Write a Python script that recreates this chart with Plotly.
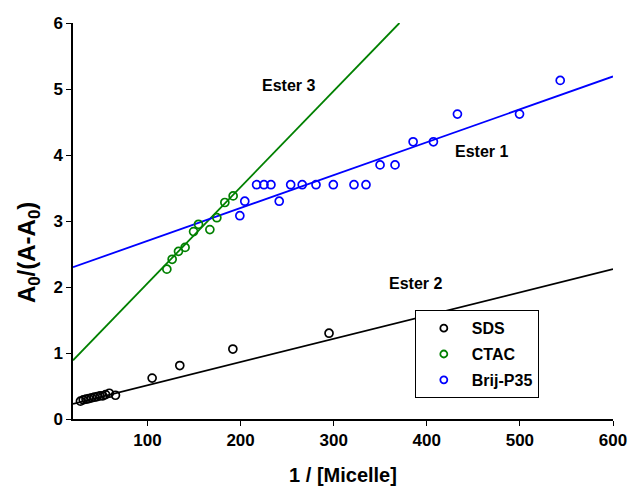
import plotly.graph_objects as go

# ---- data ----
sds_x = [28, 31, 34, 37, 40, 43, 46, 49, 52, 55, 59, 65.6, 105, 134.7, 191.7, 295]
sds_y = [0.27, 0.29, 0.30, 0.31, 0.32, 0.33, 0.34, 0.35, 0.35, 0.37, 0.39, 0.36, 0.62, 0.81, 1.06, 1.30]

ctac_x = [120.8, 126.5, 133.3, 140.4, 149.5, 154.8, 167.0, 174.5, 183.1, 192.0]
ctac_y = [2.27, 2.42, 2.54, 2.60, 2.84, 2.95, 2.87, 3.05, 3.28, 3.38]

brij_x = [199.2, 204.5, 217.2, 225.1, 232.6, 241.5, 253.8, 266.2, 281.0, 299.6,
          321.8, 334.7, 349.8, 365.9, 385.3, 407.1, 432.9, 499.6, 543.3]
brij_y = [3.08, 3.30, 3.55, 3.55, 3.55, 3.30, 3.55, 3.55, 3.55, 3.55,
          3.55, 3.55, 3.85, 3.85, 4.20, 4.20, 4.62, 4.62, 5.13]

# fitted lines (end points)
sds_fit_x = [20, 600]
sds_fit_y = [0.23, 2.27]
ctac_fit_x = [20, 370.6]
ctac_fit_y = [0.89, 6.0]
brij_fit_x = [20, 600]
brij_fit_y = [2.30, 5.19]

labels = ["SDS", "CTAC", "Brij-P35"]
colors = ["black", "green", "blue"]

ester_labels = ["Ester 3", "Ester 1", "Ester 2"]
ester_x = [251, 458.5, 387.5]
ester_y = [5.05, 4.06, 2.05]

x_ticks = [100, 200, 300, 400, 500, 600]
y_ticks = [0, 1, 2, 3, 4, 5, 6]

FONT = "Liberation Sans"

fig = go.Figure()

for fx, fy, c in [(sds_fit_x, sds_fit_y, "black"), (ctac_fit_x, ctac_fit_y, "green"),
                  (brij_fit_x, brij_fit_y, "blue")]:
    fig.add_trace(go.Scatter(x=fx, y=fy, mode="lines", line=dict(color=c, width=1.8),
                             showlegend=False, hoverinfo="skip"))

for xs, ys, c in [(sds_x, sds_y, "black"), (ctac_x, ctac_y, "green"), (brij_x, brij_y, "blue")]:
    fig.add_trace(go.Scatter(x=xs, y=ys, mode="markers", showlegend=False,
                             marker=dict(symbol="circle-open", size=8, color=c,
                                         line=dict(width=1.7, color=c))))

# legend-only entries
for i, (lab, c) in enumerate(zip(labels, colors)):
    fig.add_trace(go.Scatter(x=[None], y=[None], mode="markers", name=lab,
                             legendgroup=lab,
                             marker=dict(symbol="circle-open", size=7, color=c,
                                         line=dict(width=1.8, color=c))))

for t, x, y in zip(ester_labels, ester_x, ester_y):
    fig.add_annotation(x=x, y=y, text=t, showarrow=False,
                       font=dict(family=FONT, size=16, color="black", weight="bold"))

fig.add_annotation(xref="paper", yref="paper", x=-0.115, y=0.42,
                   text="A<sub>0</sub>/(A-A<sub>0</sub>)", textangle=-90, showarrow=False,
                   font=dict(family=FONT, size=24, color="black", weight="bold"))

fig.update_layout(
    width=632, height=486,
    margin=dict(l=73, r=19, t=23, b=67),
    plot_bgcolor="white", paper_bgcolor="white",
    font=dict(family=FONT, size=17, color="black", weight="bold"),
    legend=dict(x=0.633, y=0.2745, xanchor="left", yanchor="top",
                bordercolor="black", borderwidth=1, bgcolor="white",
                font=dict(family=FONT, size=16, color="black", weight="bold"),
                tracegroupgap=2, traceorder="grouped", itemwidth=46),
    xaxis=dict(range=[20, 600], tickvals=x_ticks, ticks="outside", ticklen=5,
               tickwidth=1, tickcolor="black", showline=True, linecolor="black",
               linewidth=1.5, showgrid=False, zeroline=False, automargin=False,
               tickfont=dict(family=FONT, size=17, color="black", weight="bold"),
               title=dict(text="1 / [Micelle]", standoff=20,
                          font=dict(family=FONT, size=20, color="black", weight="bold"))),
    yaxis=dict(range=[0, 6], tickvals=y_ticks, ticks="outside", ticklen=5,
               tickwidth=1, tickcolor="black", showline=True, linecolor="black",
               linewidth=1.5, showgrid=False, zeroline=False, automargin=False,
               tickfont=dict(family=FONT, size=17, color="black", weight="bold")),
)

fig.write_html("out.html")
